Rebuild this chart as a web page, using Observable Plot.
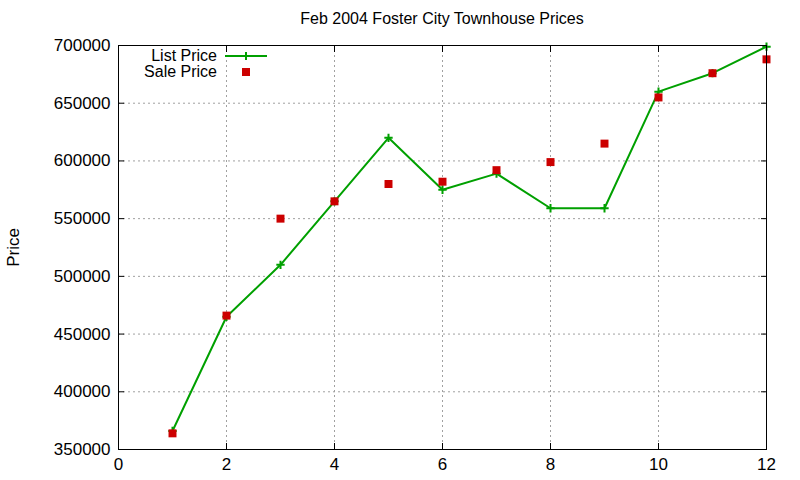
<!DOCTYPE html>
<html>
<head>
<meta charset="utf-8">
<script src="https://cdn.jsdelivr.net/npm/d3@7"></script>
<script src="https://cdn.jsdelivr.net/npm/@observablehq/plot@0.6"></script>
<style>
  body { margin: 0; background: #fff; font-family: "Liberation Sans", Arial, sans-serif; }
  #wrap { position: relative; width: 800px; height: 480px; }
  #title { position: absolute; top: 10px; left: 118px; width: 648px; text-align: center; font-size: 16px; color: #000; }
  #legend { position: absolute; left: 96px; top: 48px; font-size: 16px; color: #000; }
  #legend .row { display: flex; align-items: center; height: 16px; }
  #legend .lab { width: 121px; text-align: right; }
  #legend svg { margin-left: 7px; }
</style>
</head>
<body>
<div id="wrap">
  <div id="chart"></div>
  <div id="title">Feb 2004 Foster City Townhouse Prices</div>
  <div id="legend"></div>
</div>
<script>
const months = [1, 2, 3, 4, 5, 6, 7, 8, 9, 10, 11, 12];
const listPrice = [366000, 465000, 510000, 565000, 620000, 575000, 589000, 559000, 559000, 660000, 676000, 699000];
const salePrice = [364000, 466000, 550000, 565000, 580000, 582000, 592000, 599000, 615000, 655000, 676000, 688000];
const xTicks = [0, 2, 4, 6, 8, 10, 12];
const yTicks = [350000, 400000, 450000, 500000, 550000, 600000, 650000, 700000];
const seriesNames = ["List Price", "Sale Price"];
const lineColor = "#00a000";
const pointColor = "#cc0000";

const listData = months.map((m, i) => ({month: m, price: listPrice[i]}));
const saleData = months.map((m, i) => ({month: m, price: salePrice[i]}));

const chart = Plot.plot({
  width: 800,
  height: 480,
  marginLeft: 118,
  marginRight: 34,
  marginTop: 45,
  marginBottom: 31,
  style: {fontFamily: '"Liberation Sans", Arial, sans-serif', fontSize: "17px", color: "#000", background: "#fff"},
  x: {domain: [0, 12]},
  y: {domain: [350000, 700000]},
  marks: [
    Plot.gridX(xTicks, {stroke: "#a0a0a0", strokeOpacity: 1, strokeDasharray: "2,3"}),
    Plot.gridY(yTicks, {stroke: "#a0a0a0", strokeOpacity: 1, strokeDasharray: "2,3"}),
    Plot.axisX(xTicks, {anchor: "bottom", tickSize: -6, tickPadding: 14, tickFormat: "d", label: null}),
    Plot.axisX(xTicks, {anchor: "top", tickSize: -6, tickFormat: () => "", label: null}),
    Plot.axisY(yTicks, {anchor: "left", tickSize: -6, tickPadding: 14, tickFormat: "d", label: "Price", labelAnchor: "center", labelArrow: "none", labelOffset: 112}),
    Plot.axisY(yTicks, {anchor: "right", tickSize: -6, tickFormat: () => "", label: null}),
    Plot.line(listData, {x: "month", y: "price", stroke: lineColor, strokeWidth: 2}),
    Plot.dot(listData, {x: "month", y: "price", symbol: "plus", r: 2.8, stroke: lineColor, strokeWidth: 2}),
    Plot.dot(saleData, {x: "month", y: "price", symbol: "square", r: 4.5, fill: pointColor, stroke: "none"}),
    Plot.frame({stroke: "#000", strokeWidth: 1})
  ]
});
document.getElementById("chart").appendChild(chart);

const legend = document.getElementById("legend");
legend.innerHTML = `
  <div class="row"><span class="lab">${seriesNames[0]}</span>
    <svg width="44" height="16"><line x1="1" x2="43" y1="8" y2="8" stroke="${lineColor}" stroke-width="2"/>
    <path d="M18,8H26M22,4V12" stroke="${lineColor}" stroke-width="2"/></svg></div>
  <div class="row"><span class="lab">${seriesNames[1]}</span>
    <svg width="44" height="16"><rect x="18" y="4" width="8" height="8" fill="${pointColor}"/></svg></div>`;
</script>
</body>
</html>
